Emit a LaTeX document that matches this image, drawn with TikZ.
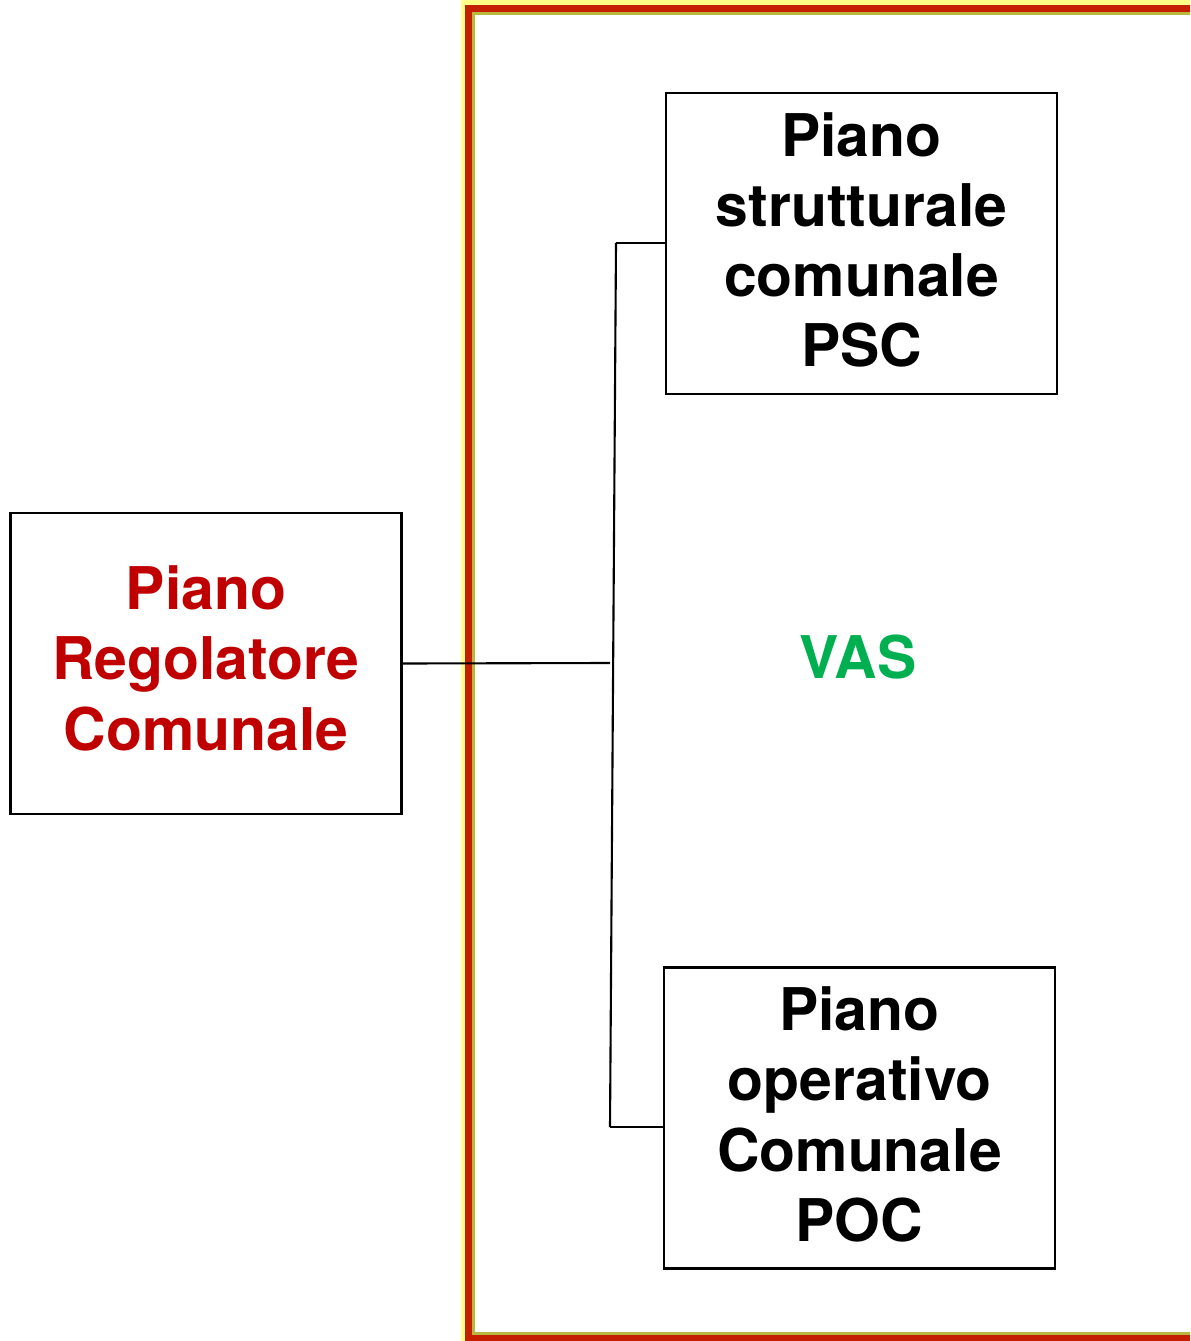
\documentclass[tikz,border=0pt]{standalone}
\usepackage{fontspec}
\setmainfont{TeX Gyre Heros}

\definecolor{plred}{RGB}{192,0,0}
\definecolor{vasgreen}{RGB}{0,176,80}
\definecolor{framered}{RGB}{196,32,0}
\definecolor{frameyellow}{RGB}{255,255,136}
\definecolor{frameolive}{RGB}{184,184,64}

\tikzset{
    plbox/.style={draw, line width=1.2pt, minimum width=7.82cm, minimum height=6.02cm,
        inner sep=0pt, align=center, font=\bfseries\fontsize{33.5}{40}\selectfont},
    link/.style={line width=1.2pt}
}

\begin{document}
\begin{tikzpicture}[x=0.02cm, y=-0.02cm]

    \clip (0, 0) rectangle (1190, 1341);

    % cornice VAS
    \draw[frameyellow, line width=4.5pt] (465, 4) rectangle (1240, 1345);
    \draw[framered, line width=4pt] (468.5, 8.5) rectangle (1240, 1338);
    \draw[frameolive, line width=1.7pt] (473.5, 13.5) rectangle (1240, 1333);

    \node[plbox, text=plred] (prc) at (206, 663.5) {Piano\\Regolatore\\Comunale\vspace{6pt}};
    \node[plbox] (psc) at (861.5, 243.5) {Piano\\strutturale\\comunale\\PSC\vspace{4pt}};
    \node[plbox] (poc) at (859.5, 1118) {Piano\\operativo\\Comunale\\POC\vspace{4pt}};

    \node[text=vasgreen, font=\bfseries\fontsize{33.5}{40}\selectfont] (vas) at (858, 657) {VAS};

    \coordinate (jn) at (610, 663);
    \coordinate (up) at (616, 243);
    \coordinate (dn) at (610, 1127);

    \draw[link] (prc.east) -- (jn);
    \draw[link] (up) -- (dn);
    \draw[link] (up) -- (up -| psc.west);
    \draw[link] (dn) -- (dn -| poc.west);

\end{tikzpicture}
\end{document}
